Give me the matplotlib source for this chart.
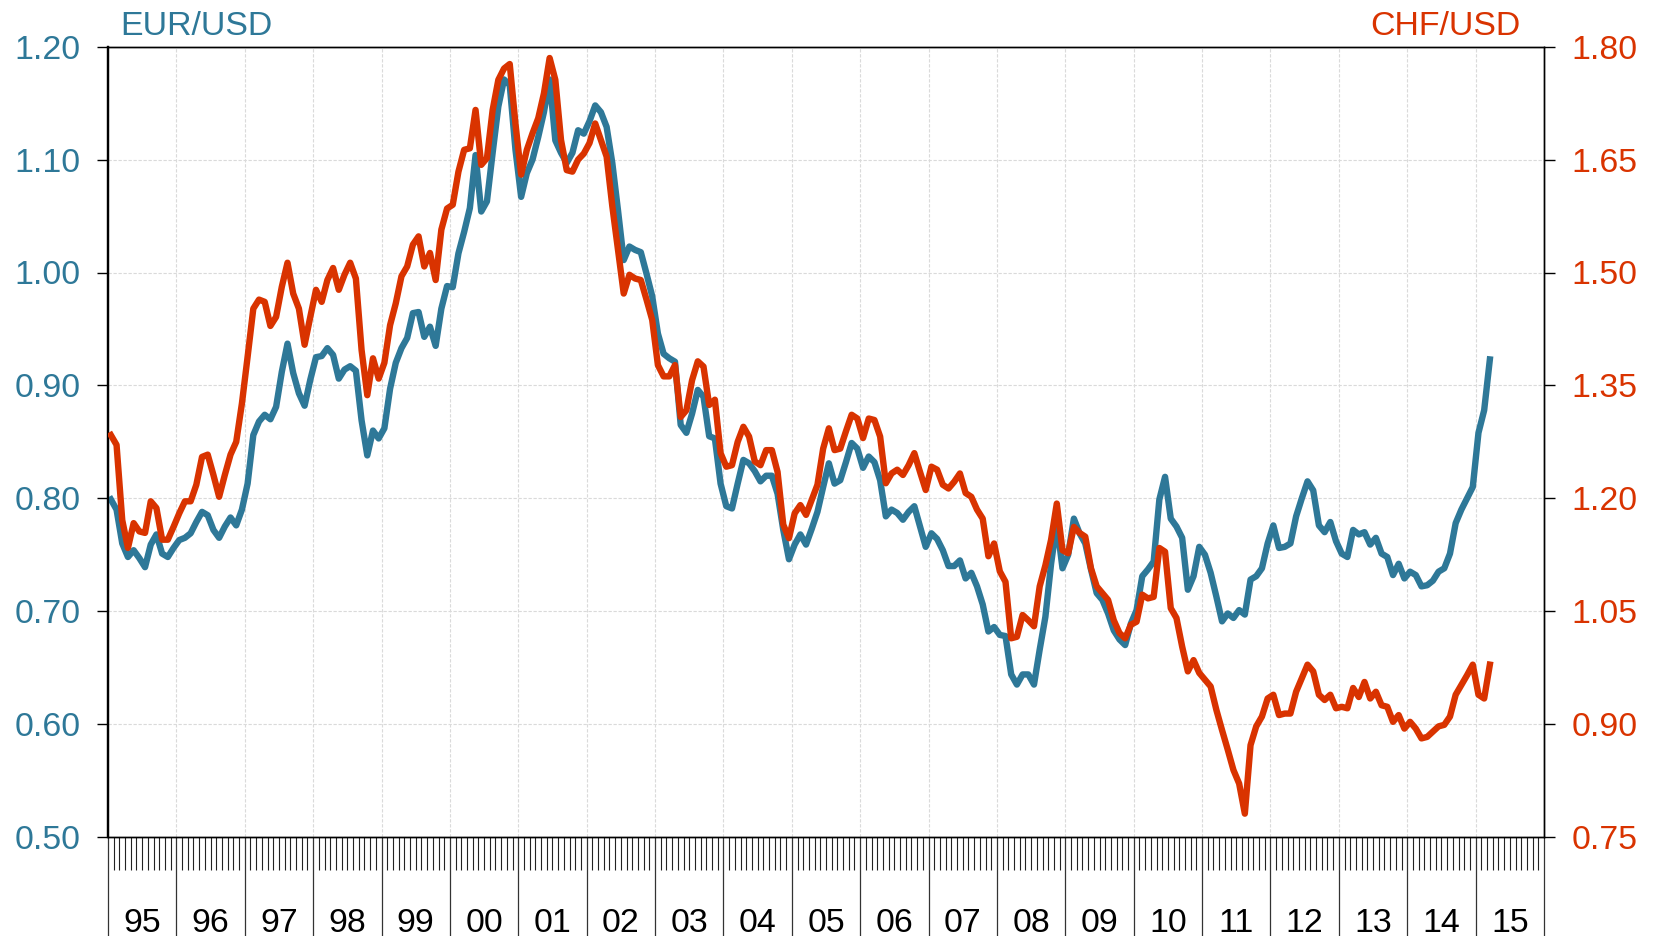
import matplotlib
matplotlib.use('Agg')
import matplotlib.pyplot as plt
import numpy as np

plt.rcParams['font.family'] = ['Liberation Sans', 'DejaVu Sans']

BLUE = '#2e7898'
RED = '#d93300'

year_labels = ['95', '96', '97', '98', '99', '00', '01', '02', '03', '04',
               '05', '06', '07', '08', '09', '10', '11', '12', '13', '14', '15']

# Monthly averages, Jan 1995 - Mar 2015
eur_usd = [
    0.799, 0.790, 0.760, 0.748, 0.754, 0.747, 0.739, 0.759, 0.768, 0.751, 0.748, 0.756,  # 1995
    0.763, 0.765, 0.769, 0.779, 0.788, 0.785, 0.772, 0.765, 0.775, 0.783, 0.776, 0.790,  # 1996
    0.813, 0.856, 0.868, 0.874, 0.870, 0.881, 0.912, 0.937, 0.911, 0.893, 0.882, 0.905,  # 1997
    0.925, 0.926, 0.933, 0.927, 0.906, 0.914, 0.917, 0.913, 0.869, 0.838, 0.860, 0.853,  # 1998
    0.862, 0.897, 0.920, 0.933, 0.942, 0.964, 0.965, 0.943, 0.952, 0.935, 0.968, 0.988,  # 1999
    0.987, 1.017, 1.036, 1.057, 1.104, 1.054, 1.063, 1.106, 1.147, 1.171, 1.166, 1.109,  # 2000
    1.067, 1.088, 1.100, 1.120, 1.142, 1.171, 1.117, 1.106, 1.097, 1.106, 1.126, 1.123,  # 2001
    1.134, 1.148, 1.142, 1.129, 1.097, 1.055, 1.011, 1.023, 1.020, 1.018, 0.999, 0.979,  # 2002
    0.946, 0.928, 0.924, 0.921, 0.865, 0.858, 0.875, 0.896, 0.890, 0.855, 0.853, 0.813,  # 2003
    0.793, 0.791, 0.813, 0.834, 0.831, 0.824, 0.815, 0.820, 0.820, 0.804, 0.772, 0.746,  # 2004
    0.759, 0.768, 0.759, 0.773, 0.788, 0.810, 0.831, 0.813, 0.816, 0.832, 0.849, 0.844,  # 2005
    0.827, 0.837, 0.832, 0.816, 0.784, 0.790, 0.787, 0.781, 0.788, 0.793, 0.775, 0.757,  # 2006
    0.769, 0.764, 0.754, 0.740, 0.740, 0.745, 0.729, 0.734, 0.722, 0.706, 0.682, 0.686,  # 2007
    0.679, 0.678, 0.644, 0.635, 0.644, 0.644, 0.635, 0.666, 0.695, 0.742, 0.778, 0.738,  # 2008
    0.750, 0.782, 0.769, 0.760, 0.737, 0.716, 0.710, 0.698, 0.683, 0.675, 0.670, 0.689,  # 2009
    0.701, 0.731, 0.737, 0.744, 0.799, 0.819, 0.782, 0.775, 0.765, 0.719, 0.731, 0.757,  # 2010
    0.750, 0.734, 0.713, 0.691, 0.698, 0.694, 0.701, 0.697, 0.728, 0.731, 0.738, 0.760,  # 2011
    0.776, 0.756, 0.757, 0.760, 0.784, 0.800, 0.815, 0.807, 0.776, 0.770, 0.779, 0.762,  # 2012
    0.751, 0.748, 0.772, 0.768, 0.770, 0.759, 0.765, 0.751, 0.748, 0.732, 0.742, 0.729,  # 2013
    0.735, 0.732, 0.722, 0.723, 0.727, 0.735, 0.738, 0.751, 0.778, 0.790, 0.800, 0.810,  # 2014
    0.858, 0.878, 0.923,                                                                  # 2015
]

chf_usd = [
    1.284, 1.271, 1.171, 1.134, 1.167, 1.156, 1.154, 1.196, 1.187, 1.145, 1.145, 1.162,  # 1995
    1.180, 1.196, 1.196, 1.218, 1.255, 1.258, 1.231, 1.202, 1.231, 1.258, 1.275, 1.326,  # 1996
    1.388, 1.452, 1.464, 1.461, 1.429, 1.441, 1.481, 1.513, 1.472, 1.452, 1.404, 1.441,  # 1997
    1.477, 1.461, 1.490, 1.506, 1.477, 1.497, 1.513, 1.492, 1.397, 1.337, 1.386, 1.359,  # 1998
    1.380, 1.430, 1.459, 1.495, 1.508, 1.537, 1.548, 1.508, 1.526, 1.490, 1.557, 1.585,  # 1999
    1.590, 1.634, 1.663, 1.665, 1.716, 1.643, 1.652, 1.716, 1.756, 1.771, 1.777, 1.698,  # 2000
    1.630, 1.663, 1.685, 1.705, 1.738, 1.785, 1.756, 1.676, 1.636, 1.634, 1.650, 1.658,  # 2001
    1.672, 1.698, 1.676, 1.654, 1.588, 1.530, 1.472, 1.497, 1.492, 1.490, 1.464, 1.437,  # 2002
    1.377, 1.362, 1.362, 1.377, 1.308, 1.317, 1.357, 1.382, 1.375, 1.324, 1.331, 1.260,  # 2003
    1.242, 1.244, 1.275, 1.295, 1.282, 1.249, 1.244, 1.264, 1.264, 1.235, 1.165, 1.147,  # 2004
    1.180, 1.191, 1.178, 1.198, 1.218, 1.266, 1.293, 1.264, 1.266, 1.289, 1.311, 1.306,  # 2005
    1.280, 1.306, 1.304, 1.282, 1.220, 1.233, 1.238, 1.231, 1.244, 1.260, 1.235, 1.211,  # 2006
    1.242, 1.238, 1.218, 1.213, 1.222, 1.233, 1.207, 1.202, 1.185, 1.173, 1.123, 1.140,  # 2007
    1.103, 1.089, 1.014, 1.016, 1.045, 1.038, 1.030, 1.083, 1.111, 1.145, 1.193, 1.131,  # 2008
    1.127, 1.162, 1.154, 1.149, 1.107, 1.083, 1.074, 1.065, 1.038, 1.021, 1.014, 1.032,  # 2009
    1.036, 1.072, 1.067, 1.069, 1.134, 1.129, 1.054, 1.041, 1.003, 0.970, 0.985, 0.968,  # 2010
    0.959, 0.950, 0.919, 0.892, 0.866, 0.839, 0.821, 0.781, 0.872, 0.897, 0.910, 0.934,  # 2011
    0.939, 0.912, 0.914, 0.914, 0.943, 0.961, 0.979, 0.970, 0.939, 0.932, 0.939, 0.921,  # 2012
    0.923, 0.921, 0.948, 0.936, 0.956, 0.934, 0.943, 0.925, 0.923, 0.903, 0.912, 0.894,  # 2013
    0.903, 0.894, 0.881, 0.883, 0.890, 0.897, 0.899, 0.910, 0.939, 0.952, 0.965, 0.979,  # 2014
    0.939, 0.934, 0.979,                                                                  # 2015
]

eur_ticks = [0.50, 0.60, 0.70, 0.80, 0.90, 1.00, 1.10, 1.20]
chf_ticks = [0.75, 0.90, 1.05, 1.20, 1.35, 1.50, 1.65, 1.80]

n_years = len(year_labels)
months = np.arange(len(eur_usd)) + 0.5

W, H = 1654, 936
fig = plt.figure(figsize=(W / 100, H / 100), dpi=100)
L, R, T, B = 108, 1544, 46.7, 837
ax = fig.add_axes([L / W, (H - B) / H, (R - L) / W, (B - T) / H])
ax2 = ax.twinx()

FS = 24.4

ax.plot(months, eur_usd, color=BLUE, lw=4.6, zorder=3)
ax2.plot(months, chf_usd, color=RED, lw=4.6, zorder=3)

ax.set_xlim(0, 12 * n_years)
ax.set_ylim(eur_ticks[0], eur_ticks[-1])
ax2.set_ylim(chf_ticks[0], chf_ticks[-1])

# x ticks
ax.set_xticks(np.arange(0, 12 * n_years + 1, 12))
ax.set_xticklabels([])
ax.set_xticks([m for m in range(1, 12 * n_years) if m % 12], minor=True)
ax.tick_params(axis='x', which='major', direction='out', length=72, width=0.9, color='#333333')
ax.tick_params(axis='x', which='minor', direction='out', length=23.8, width=0.8, color='#222222')

for i, lab in enumerate(year_labels):
    ax.text(12 * i + 6, -0.1196, lab, transform=ax.get_xaxis_transform(),
            ha='center', va='baseline', fontsize=FS, color='black')

# y ticks
ax.set_yticks(eur_ticks)
ax.set_yticklabels([f'{v:.2f}' for v in eur_ticks])
ax.tick_params(axis='y', which='major', direction='out', length=7.9, width=1.0,
               color='black', labelcolor=BLUE, labelsize=FS, pad=12)
ax2.set_yticks(chf_ticks)
ax2.set_yticklabels([f'{v:.2f}' for v in chf_ticks])
ax2.tick_params(axis='y', which='major', direction='out', length=7.9, width=1.0,
                color='black', labelcolor=RED, labelsize=FS, pad=12)

# grid
ax.grid(True, which='major', axis='both', color='#dadada', lw=0.8, ls=(0, (3, 1.5)))
ax.set_axisbelow(True)

for a in (ax, ax2):
    for s in a.spines.values():
        s.set_color('black')
        s.set_linewidth(1.0)
ax.spines['left'].set_linewidth(1.6)
ax2.spines['left'].set_linewidth(1.6)

fig.text(120 / W, 1 - 35 / H, 'EUR/USD', color=BLUE, fontsize=FS, ha='left', va='baseline')
fig.text(1521 / W, 1 - 35 / H, 'CHF/USD', color=RED, fontsize=FS, ha='right', va='baseline')

fig.savefig('out.png', dpi=100)
